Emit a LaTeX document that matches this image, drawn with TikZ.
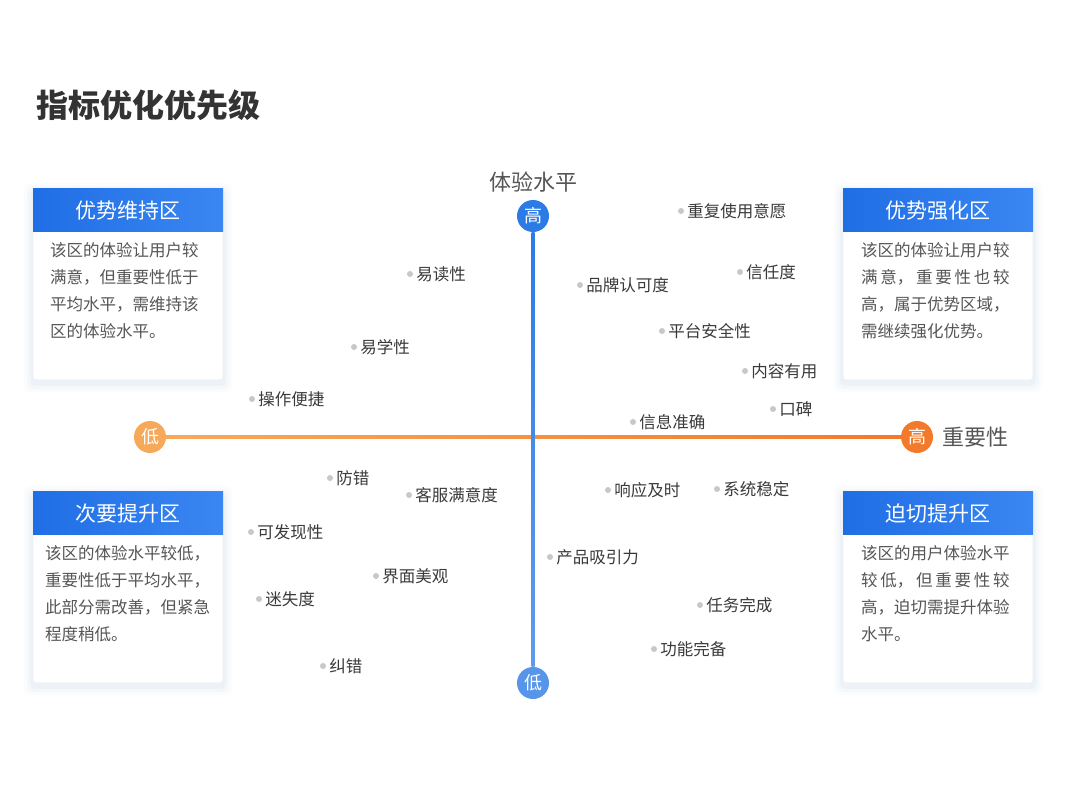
\documentclass[tikz,border=0pt]{standalone}
\usepackage{fontspec}
\setmainfont{Noto Sans CJK SC}
\usetikzlibrary{positioning, shadows, calc}
\definecolor{hdrblue}{HTML}{1F6EE4}
\definecolor{hdrblueR}{HTML}{3A86F2}
\definecolor{axblue}{HTML}{2C7BE5}
\definecolor{axorange}{HTML}{F27A2A}
\definecolor{loworange}{HTML}{F7A95A}
\definecolor{txtgray}{HTML}{555555}
\definecolor{lblgray}{HTML}{3A3A3A}
\definecolor{dotgray}{HTML}{C8C8C8}
\definecolor{shadowblue}{HTML}{D8E2F2}
\tikzset{
  card/.style={draw=shadowblue!60, line width=0.6pt, fill=white, rounded corners=3pt,
    minimum width=190pt, minimum height=191pt},
  hdr/.style={minimum width=190pt, minimum height=43pt, inner sep=0pt,
    left color=hdrblue, right color=hdrblueR, text=white, font=\fontsize{21}{24}\selectfont},
  body/.style={text width=180pt, align=left, font=\fontsize{16.5}{27}\selectfont, text=txtgray, inner sep=0pt},
  endpt/.style={circle, minimum size=32pt, inner sep=0pt, text=white, font=\fontsize{18}{20}\selectfont},
  pt/.style={circle, fill=dotgray, minimum size=6pt, inner sep=0pt},
  ptlbl/.style={right=2pt, font=\fontsize{16.5}{18}\selectfont, text=lblgray, inner sep=1pt},
}
\begin{document}
\begin{tikzpicture}[x=1pt, y=-1pt]
	\useasboundingbox[fill=white] (0,0) rectangle (1067,800);
	
	\node[anchor=west, font=\fontsize{32}{36}\selectfont\bfseries, text=black!80] (title) at (33,105) {指标优化优先级};
	
	% axes
	\node[endpt, fill=axblue] (vtop) at (533,216) {高};
	\node[endpt, fill=axblue!80] (vbot) at (533,683) {低};
	\node[endpt, fill=loworange] (hlow) at (150,437) {低};
	\node[endpt, fill=axorange] (hhigh) at (917,437) {高};
	\shade[left color=loworange, right color=axorange] ($(hlow.east)+(0,-1.5)$) rectangle ($(hhigh.west)+(0,1.5)$);
	\shade[top color=axblue, bottom color=axblue!75] ($(vtop.south)+(-1.5,0)$) rectangle ($(vbot.north)+(1.5,0)$);
	\node[above=4pt of vtop, font=\fontsize{22}{24}\selectfont, text=txtgray] (vname) {体验水平};
	\node[right=6pt of hhigh, font=\fontsize{22}{24}\selectfont, text=txtgray] (hname) {重要性};
	
	% cards
	\foreach \nm/\x/\y/\head in {lt/128/284.5/优势维持区, lb/128/587.5/次要提升区, rt/938/284.5/优势强化区, rb/938/587.5/迫切提升区}{
		\foreach \s/\o in {9/0.10, 6/0.15, 3/0.25}
			\fill[shadowblue, opacity=\o, rounded corners=6pt] ($(\x,\y)+(-95-\s,-95.5-\s+3)$) rectangle ($(\x,\y)+(95+\s,95.5+\s+3)$);
		\node[card] (\nm) at (\x,\y) {};
		\node[hdr, anchor=north] (\nm h) at (\nm.north) {\head};
	}
	\node[body, anchor=north west] (ltb) at (50,242) {该区的体验让用户较\\满意，但重要性低于\\平均水平，需维持该\\区的体验水平。};
	\node[body, anchor=north west] (lbb) at (45,545) {该区的体验水平较低，\\重要性低于平均水平，\\此部分需改善，但紧急\\程度稍低。};
	\node[body, anchor=north west] (rtb) at (861,242) {该区的体验让用户较\\满\,意，\,重\,要\,性\,也\,较\\高，属于优势区域，\\需继续强化优势。};
	\node[body, anchor=north west] (rbb) at (861,545) {该区的用户体验水平\\较\,低，\,但\,重\,要\,性\,较\\高，迫切需提升体验\\水平。};
	
	% data points
	\foreach \i/\x/\y/\t in {1/681/211/重复使用意愿, 2/410/274/易读性, 3/580/285/品牌认可度,
		4/740/272/信任度, 5/662/331/平台安全性, 6/354/347/易学性, 7/745/371/内容有用,
		8/252/399/操作便捷, 9/773/409/口碑, 10/633/422/信息准确, 11/330/478/防错,
		12/409/495/客服满意度, 13/608/490/响应及时, 14/717/489/系统稳定, 15/251/532/可发现性,
		16/550/557/产品吸引力, 17/376/576/界面美观, 18/259/599/迷失度, 19/700/605/任务完成,
		20/654/649/功能完备, 21/323/666/纠错}{
		\node[pt] (p\i) at (\x,\y) {};
		\node[ptlbl] (p\i l) at (p\i.east) {\t};
	}
\end{tikzpicture}
\end{document}
